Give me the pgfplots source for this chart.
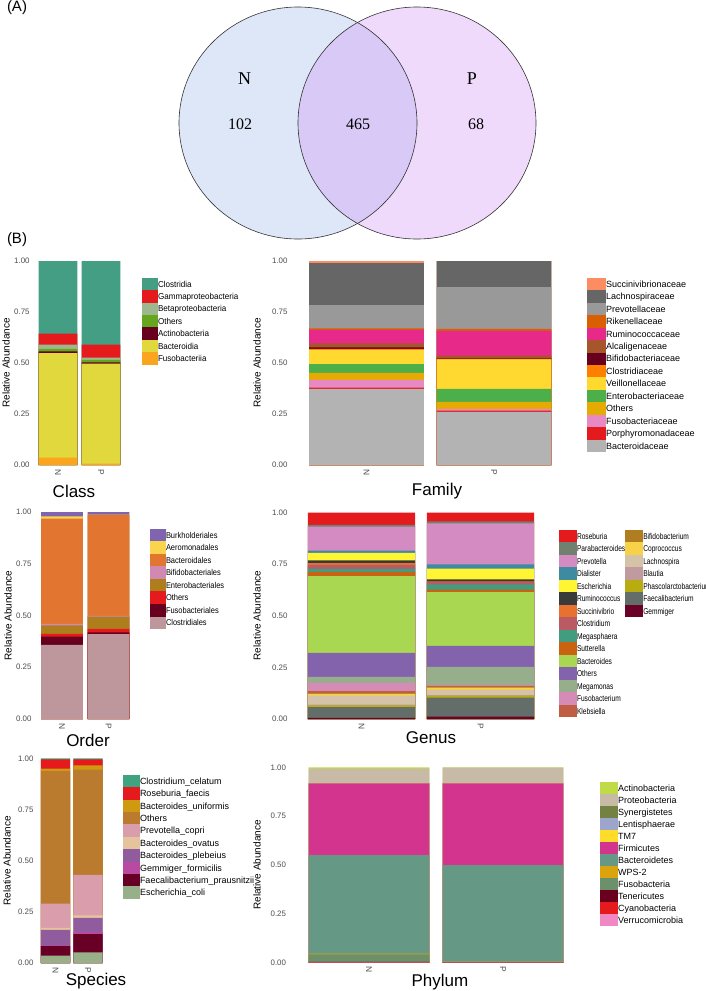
\documentclass[border=0pt]{standalone}
\usepackage{pgfplots}
\pgfplotsset{compat=1.18}
\usepackage{fontspec}
\setmainfont{Liberation Sans}
\newfontfamily\venfont{Liberation Serif}
\newfontfamily\condA[FakeStretch=0.94]{Liberation Sans}
\newfontfamily\condB[FakeStretch=0.88]{Liberation Sans}
\newfontfamily\condC[FakeStretch=0.78]{Liberation Sans}
\definecolor{tickgrey}{HTML}{4D4D4D}
\definecolor{vennL}{HTML}{DEE7F8}
\definecolor{vennR}{HTML}{F0DAFB}
\definecolor{vennM}{HTML}{D8C9F7}
\pgfplotsset{
  bp/.style={
    scale only axis, ybar, bar width=0.9,
    ymin=0, ymax=1, xmin=-0.6, xmax=1.6,
    axis line style={draw=none}, major tick length=0pt,
    ytick={0,0.25,0.5,0.75,1}, yticklabels={0.00,0.25,0.50,0.75,1.00},
    xtick={0,1}, xticklabels={N,P},
    tick label style={font=\fontsize{7.9}{8}\selectfont, text=tickgrey},
    yticklabel style={inner sep=0pt, xshift=-2.4pt, anchor=east},
    xticklabel style={inner sep=0pt, yshift=-4pt, rotate=-90, anchor=west, font=\fontsize{8.4}{8.4}\selectfont},
    legend cell align=left,
    anchor=north west,
    legend style={draw=none, fill=none, inner sep=0pt, outer sep=0pt, row sep=0pt, column sep=0pt,
      at={(0,1)}, anchor=north west},
  },
}
\begin{document}
\begin{tikzpicture}
% ---------- (A) Venn ----------
\begin{axis}[at={(0pt,0pt)}, anchor=north west, scale only axis, width=706pt, height=991pt,
  xmin=0, xmax=706, ymin=0, ymax=991, y dir=reverse, hide axis, clip=false]
  \fill[vennL] (axis cs:298,123) ellipse [x radius=119, y radius=116];
  \fill[vennR] (axis cs:417,123) ellipse [x radius=119, y radius=116];
  \begin{scope}
    \clip (axis cs:298,123) ellipse [x radius=119, y radius=116];
    \fill[vennM] (axis cs:417,123) ellipse [x radius=119, y radius=116];
  \end{scope}
  \draw[black!80, line width=0.6pt] (axis cs:298,123) ellipse [x radius=119, y radius=116];
  \draw[black!80, line width=0.6pt] (axis cs:417,123) ellipse [x radius=119, y radius=116];
  \node[font=\venfont\fontsize{18}{18}\selectfont] at (axis cs:244.5,78.5) {N};
  \node[font=\venfont\fontsize{18}{18}\selectfont] at (axis cs:472,78.5) {P};
  \node[font=\venfont\fontsize{16}{16}\selectfont] at (axis cs:240,124) {102};
  \node[font=\venfont\fontsize{16}{16}\selectfont] at (axis cs:358,124) {465};
  \node[font=\venfont\fontsize{16}{16}\selectfont] at (axis cs:476,124) {68};
  \node[font=\fontsize{15}{15}\selectfont] at (axis cs:17,8) {(A)};
  \node[font=\fontsize{15}{15}\selectfont] at (axis cs:17,239.5) {(B)};
\end{axis}

% ---------- Class ----------
\begin{axis}[bp, at={(32.2pt,-261pt)}, width=94.6pt, height=204pt,
  every axis plot post/.append style={bar shift=0pt, draw=none,
    legend image code/.code={\path (0pt,-6.2pt) rectangle (16pt,6.2pt); \fill[##1] (0pt,-5.5pt) rectangle (11pt,5.5pt);}},
  legend style={xshift=109.8pt, yshift=-16.8pt, font=\condA\fontsize{8.6}{9}\selectfont,
    nodes={inner sep=0pt, text height=6.1pt, text depth=0pt}}]
\addplot[fill={rgb,255:red,67;green,158;blue,132}] coordinates {(0,1) (1,1)}; \addlegendentry{Clostridia}
\addplot[fill={rgb,255:red,228;green,26;blue,28}] coordinates {(0,0.644) (1,0.590)}; \addlegendentry{Gammaproteobacteria}
\addplot[fill={rgb,255:red,157;green,184;blue,142}] coordinates {(0,0.590) (1,0.526)}; \addlegendentry{Betaproteobacteria}
\addplot[fill={rgb,255:red,102;green,166;blue,30}] coordinates {(0,0.569) (1,0.515)}; \addlegendentry{Others}
\addplot[fill={rgb,255:red,103;green,0;blue,31}] coordinates {(0,0.557) (1,0.503)}; \addlegendentry{Actinobacteria}
\addplot[fill={rgb,255:red,224;green,216;blue,60}] coordinates {(0,0.549) (1,0.497)}; \addlegendentry{Bacteroidia}
\addplot[fill={rgb,255:red,251;green,164;blue,29}] coordinates {(0,0.036) (1,0.007)}; \addlegendentry{Fusobacteriia}
\end{axis}

% ---------- Family ----------
\begin{axis}[bp, at={(290pt,-261pt)}, width=280.5pt, height=204pt,
  every axis plot post/.append style={bar shift=0pt, draw=none,
    legend image code/.code={\path (0pt,-6.225pt) rectangle (19pt,6.225pt); \fill[##1] (0pt,-5.5pt) rectangle (12pt,5.5pt);}},
  legend style={xshift=297pt, yshift=-16.8pt, font=\fontsize{9}{9}\selectfont,
    nodes={inner sep=0pt, text height=6.4pt, text depth=0pt}}]
\addplot[fill={rgb,255:red,252;green,141;blue,98}] coordinates {(0,1) (1,1)}; \addlegendentry{Succinivibrionaceae}
\addplot[fill={rgb,255:red,102;green,102;blue,102}] coordinates {(0,0.99) (1,1)}; \addlegendentry{Lachnospiraceae}
\addplot[fill={rgb,255:red,153;green,153;blue,153}] coordinates {(0,0.784) (1,0.872)}; \addlegendentry{Prevotellaceae}
\addplot[fill={rgb,255:red,217;green,95;blue,2}] coordinates {(0,0.670) (1,0.667)}; \addlegendentry{Rikenellaceae}
\addplot[fill={rgb,255:red,231;green,41;blue,138}] coordinates {(0,0.662) (1,0.657)}; \addlegendentry{Ruminococcaceae}
\addplot[fill={rgb,255:red,166;green,86;blue,42}] coordinates {(0,0.596) (1,0.536)}; \addlegendentry{Alcaligenaceae}
\addplot[fill={rgb,255:red,103;green,0;blue,31}] coordinates {(0,0.577) (1,0.523)}; \addlegendentry{Bifidobacteriaceae}
\addplot[fill={rgb,255:red,255;green,127;blue,0}] coordinates {(0,0.569) (1,0.520)}; \addlegendentry{Clostridiaceae}
\addplot[fill={rgb,255:red,255;green,217;blue,47}] coordinates {(0,0.564) (1,0.518)}; \addlegendentry{Veillonellaceae}
\addplot[fill={rgb,255:red,77;green,175;blue,74}] coordinates {(0,0.495) (1,0.373)}; \addlegendentry{Enterobacteriaceae}
\addplot[fill={rgb,255:red,230;green,171;blue,2}] coordinates {(0,0.452) (1,0.310)}; \addlegendentry{Others}
\addplot[fill={rgb,255:red,231;green,138;blue,195}] coordinates {(0,0.417) (1,0.274)}; \addlegendentry{Fusobacteriaceae}
\addplot[fill={rgb,255:red,228;green,26;blue,28}] coordinates {(0,0.379) (1,0.266)}; \addlegendentry{Porphyromonadaceae}
\addplot[fill={rgb,255:red,179;green,179;blue,179}] coordinates {(0,0.373) (1,0.261)}; \addlegendentry{Bacteroidaceae}
\end{axis}

% ---------- Order ----------
\begin{axis}[bp, at={(34.1pt,-512pt)}, width=102.3pt, height=207pt,
  every axis plot post/.append style={bar shift=0pt, draw=none,
    legend image code/.code={\path (0pt,-6.275pt) rectangle (16pt,6.275pt); \fill[##1] (0pt,-5.5pt) rectangle (11pt,5.5pt);}},
  legend style={xshift=115.9pt, yshift=-16.7pt, font=\condB\fontsize{8.5}{9}\selectfont,
    nodes={inner sep=0pt, text height=6.1pt, text depth=0pt}}]
\addplot[fill={rgb,255:red,128;green,100;blue,176}] coordinates {(0,1) (1,1)}; \addlegendentry{Burkholderiales}
\addplot[fill={rgb,255:red,248;green,213;blue,76}] coordinates {(0,0.979) (1,0.987)}; \addlegendentry{Aeromonadales}
\addplot[fill={rgb,255:red,226;green,117;blue,48}] coordinates {(0,0.968) (1,0.986)}; \addlegendentry{Bacteroidales}
\addplot[fill={rgb,255:red,209;green,136;blue,177}] coordinates {(0,0.460) (1,0.498)}; \addlegendentry{Bifidobacteriales}
\addplot[fill={rgb,255:red,175;green,126;blue,28}] coordinates {(0,0.452) (1,0.495)}; \addlegendentry{Enterobacteriales}
\addplot[fill={rgb,255:red,228;green,26;blue,28}] coordinates {(0,0.411) (1,0.435)}; \addlegendentry{Others}
\addplot[fill={rgb,255:red,103;green,0;blue,31}] coordinates {(0,0.398) (1,0.418)}; \addlegendentry{Fusobacteriales}
\addplot[fill={rgb,255:red,190;green,151;blue,157}] coordinates {(0,0.358) (1,0.410)}; \addlegendentry{Clostridiales}
\end{axis}

% ---------- Genus ----------
\begin{axis}[bp, at={(290.1pt,-512.5pt)}, width=261.8pt, height=206.5pt,
  every axis plot post/.append style={bar shift=0pt, draw=none,
    legend image code/.code={\path (-5pt,-6.25pt) rectangle (13pt,6.25pt); \fill[##1] (0pt,-5.35pt) rectangle (8.3pt,5.35pt);}},
  legend columns=15, transpose legend,
  legend style={xshift=268.9pt, yshift=-17.25pt, font=\condC\fontsize{8.5}{9}\selectfont,
    nodes={inner sep=0pt, text height=6.1pt, text depth=0pt}}]
\addplot[fill={rgb,255:red,228;green,26;blue,28}] coordinates {(0,1) (1,1)}; \addlegendentry{Roseburia}
\addplot[fill={rgb,255:red,113;green,128;blue,111}] coordinates {(0,0.940) (1,0.957)}; \addlegendentry{Parabacteroides}
\addplot[fill={rgb,255:red,212;green,139;blue,194}] coordinates {(0,0.932) (1,0.947)}; \addlegendentry{Prevotella}
\addplot[fill={rgb,255:red,62;green,138;blue,160}] coordinates {(0,0.816) (1,0.749)}; \addlegendentry{Dialister}
\addplot[fill={rgb,255:red,255;green,245;blue,51}] coordinates {(0,0.805) (1,0.728)}; \addlegendentry{Escherichia}
\addplot[fill={rgb,255:red,58;green,58;blue,58}] coordinates {(0,0.768) (1,0.676)}; \addlegendentry{Ruminococcus}
\addplot[fill={rgb,255:red,231;green,114;blue,47}] coordinates {(0,0.755) (1,0.667)}; \addlegendentry{Succinivibrio}
\addplot[fill={rgb,255:red,186;green,90;blue,99}] coordinates {(0,0.747) (1,0.663)}; \addlegendentry{Clostridium}
\addplot[fill={rgb,255:red,65;green,156;blue,128}] coordinates {(0,0.727) (1,0.652)}; \addlegendentry{Megasphaera}
\addplot[fill={rgb,255:red,201;green,98;blue,17}] coordinates {(0,0.711) (1,0.626)}; \addlegendentry{Sutterella}
\addplot[fill={rgb,255:red,170;green,215;blue,82}] coordinates {(0,0.692) (1,0.615)}; \addlegendentry{Bacteroides}
\addplot[fill={rgb,255:red,132;green,99;blue,173}] coordinates {(0,0.320) (1,0.354)}; \addlegendentry{Others}
\addplot[fill={rgb,255:red,151;green,174;blue,140}] coordinates {(0,0.204) (1,0.253)}; \addlegendentry{Megamonas}
\addplot[fill={rgb,255:red,213;green,139;blue,182}] coordinates {(0,0.175) (1,0.164)}; \addlegendentry{Fusobacterium}
\addplot[fill={rgb,255:red,192;green,94;blue,68}] coordinates {(0,0.135) (1,0.160)}; \addlegendentry{Klebsiella}
\addplot[fill={rgb,255:red,176;green,125;blue,33}] coordinates {(0,0.127) (1,0.156)}; \addlegendentry{Bifidobacterium}
\addplot[fill={rgb,255:red,247;green,209;blue,72}] coordinates {(0,0.122) (1,0.152)}; \addlegendentry{Coprococcus}
\addplot[fill={rgb,255:red,212;green,194;blue,169}] coordinates {(0,0.113) (1,0.141)}; \addlegendentry{Lachnospira}
\addplot[fill={rgb,255:red,192;green,154;blue,158}] coordinates {(0,0.070) (1,0.116)}; \addlegendentry{Blautia}
\addplot[fill={rgb,255:red,184;green,172;blue,17}] coordinates {(0,0.066) (1,0.113)}; \addlegendentry{Phascolarctobacterium}
\addplot[fill={rgb,255:red,99;green,110;blue,107}] coordinates {(0,0.058) (1,0.103)}; \addlegendentry{Faecalibacterium}
\addplot[fill={rgb,255:red,106;green,1;blue,39}] coordinates {(0,0.006) (1,0.012)}; \addlegendentry{Gemmiger}
\addlegendimage{fill=white, draw=none}\addlegendentry{}
\addlegendimage{fill=white, draw=none}\addlegendentry{}
\addlegendimage{fill=white, draw=none}\addlegendentry{}
\addlegendimage{fill=white, draw=none}\addlegendentry{}
\addlegendimage{fill=white, draw=none}\addlegendentry{}
\addlegendimage{fill=white, draw=none}\addlegendentry{}
\addlegendimage{fill=white, draw=none}\addlegendentry{}
\addlegendimage{fill=white, draw=none}\addlegendentry{}
\end{axis}

% ---------- Species ----------
\begin{axis}[bp, at={(36pt,-758.3pt)}, width=71.5pt, height=204.7pt,
  every axis plot post/.append style={bar shift=0pt, draw=none,
    legend image code/.code={\path (0pt,-6.2pt) rectangle (17pt,6.2pt); \fill[##1] (0pt,-5.5pt) rectangle (11pt,5.5pt);}},
  legend style={xshift=87pt, yshift=-16.5pt, font=\fontsize{9}{9}\selectfont,
    nodes={inner sep=0pt, text height=6.4pt, text depth=0pt}}]
\addplot[fill={rgb,255:red,62;green,163;blue,126}] coordinates {(0,1) (1,1)}; \addlegendentry{Clostridium\_celatum}
\addplot[fill={rgb,255:red,228;green,26;blue,28}] coordinates {(0,0.995) (1,0.995)}; \addlegendentry{Roseburia\_faecis}
\addplot[fill={rgb,255:red,207;green,154;blue,16}] coordinates {(0,0.950) (1,0.966)}; \addlegendentry{Bacteroides\_uniformis}
\addplot[fill={rgb,255:red,186;green,123;blue,46}] coordinates {(0,0.938) (1,0.945)}; \addlegendentry{Others}
\addplot[fill={rgb,255:red,218;green,157;blue,171}] coordinates {(0,0.290) (1,0.430)}; \addlegendentry{Prevotella\_copri}
\addplot[fill={rgb,255:red,229;green,196;blue,157}] coordinates {(0,0.172) (1,0.233)}; \addlegendentry{Bacteroides\_ovatus}
\addplot[fill={rgb,255:red,145;green,92;blue,158}] coordinates {(0,0.162) (1,0.221)}; \addlegendentry{Bacteroides\_plebeius}
\addplot[fill={rgb,255:red,185;green,74;blue,161}] coordinates {(0,0.085) (1,0.151)}; \addlegendentry{Gemmiger\_formicilis}
\addplot[fill={rgb,255:red,104;green,0;blue,38}] coordinates {(0,0.083) (1,0.141)}; \addlegendentry{Faecalibacterium\_prausnitzii}
\addplot[fill={rgb,255:red,151;green,176;blue,137}] coordinates {(0,0.036) (1,0.052)}; \addlegendentry{Escherichia\_coli}
\end{axis}

% ---------- Phylum ----------
\begin{axis}[bp, at={(288.6pt,-767.3pt)}, width=294.8pt, height=195.4pt,
  every axis plot post/.append style={bar shift=0pt, draw=none,
    legend image code/.code={\path (0pt,-6pt) rectangle (18pt,6pt); \fill[##1] (0pt,-5.5pt) rectangle (12pt,5.5pt);}},
  legend style={xshift=311.4pt, yshift=-14.7pt, font=\fontsize{9}{9}\selectfont,
    nodes={inner sep=0pt, text height=6.4pt, text depth=0pt}}]
\addplot[fill={rgb,255:red,192;green,218;blue,72}] coordinates {(0,1) (1,1)}; \addlegendentry{Actinobacteria}
\addplot[fill={rgb,255:red,199;green,187;blue,168}] coordinates {(0,0.993) (1,0.998)}; \addlegendentry{Proteobacteria}
\addplot[fill={rgb,255:red,115;green,130;blue,66}] coordinates {(0,0.918) (1,0.918)}; \addlegendentry{Synergistetes}
\addplot[fill={rgb,255:red,158;green,165;blue,204}] coordinates {(0,0.918) (1,0.918)}; \addlegendentry{Lentisphaerae}
\addplot[fill={rgb,255:red,254;green,221;blue,42}] coordinates {(0,0.918) (1,0.918)}; \addlegendentry{TM7}
\addplot[fill={rgb,255:red,210;green,52;blue,142}] coordinates {(0,0.918) (1,0.918)}; \addlegendentry{Firmicutes}
\addplot[fill={rgb,255:red,101;green,153;blue,133}] coordinates {(0,0.551) (1,0.500)}; \addlegendentry{Bacteroidetes}
\addplot[fill={rgb,255:red,219;green,164;blue,14}] coordinates {(0,0.046) (1,0.005)}; \addlegendentry{WPS-2}
\addplot[fill={rgb,255:red,108;green,144;blue,105}] coordinates {(0,0.043) (1,0.004)}; \addlegendentry{Fusobacteria}
\addplot[fill={rgb,255:red,104;green,0;blue,30}] coordinates {(0,0.004) (1,0.003)}; \addlegendentry{Tenericutes}
\addplot[fill={rgb,255:red,228;green,26;blue,28}] coordinates {(0,0.003) (1,0.002)}; \addlegendentry{Cyanobacteria}
\addplot[fill={rgb,255:red,239;green,136;blue,195}] coordinates {(0,0.002) (1,0.002)}; \addlegendentry{Verrucomicrobia}
\end{axis}

% ---------- titles and y labels ----------
\begin{scope}[every node/.style={font=\fontsize{17}{17}\selectfont}]
\node at (74pt,-491pt) {Class};
\node at (437pt,-491pt) {Family};
\node at (88pt,-740pt) {Order};
\node at (431pt,-738pt) {Genus};
\node at (96pt,-981pt) {Species};
\node at (440pt,-982pt) {Phylum};
\end{scope}
\begin{scope}[every node/.style={rotate=90, font=\fontsize{10}{10}\selectfont}]
\node at (6pt,-363pt) {Relative Abundance};
\node at (257pt,-363pt) {Relative Abundance};
\node at (8pt,-615.5pt) {Relative Abundance};
\node at (257pt,-615.5pt) {Relative Abundance};
\node at (7pt,-860.6pt) {Relative Abundance};
\node at (257pt,-865pt) {Relative Abundance};
\end{scope}
\pgfresetboundingbox
\path[use as bounding box] (0pt,0pt) rectangle (706pt,-991pt);
\end{tikzpicture}
\end{document}
